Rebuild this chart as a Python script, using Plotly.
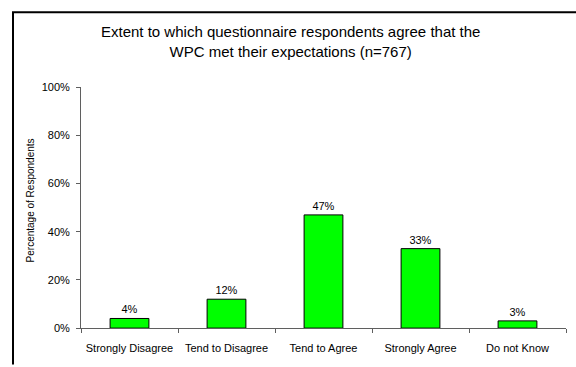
import plotly.graph_objects as go

# Survey responses on whether the WPC met expectations
categories = ["Strongly Disagree", "Tend to Disagree", "Tend to Agree", "Strongly Agree", "Do not Know"]
percentages = [4, 12, 47, 33, 3]
y_ticks = [0, 20, 40, 60, 80, 100]
y_tick_labels = ["0%", "20%", "40%", "60%", "80%", "100%"]

W, H = 576, 367
FONT = "Liberation Sans, Arial, sans-serif"
AXIS_GREY = "#5f5f5f"

# plot area in pixels
px_left, px_right = 81, 566
px_top, px_bottom = 84, 333

fig = go.Figure(
    go.Bar(
        x=categories,
        y=percentages,
        width=0.4,
        marker=dict(color="#00FF00", line=dict(color="#000000", width=1)),
        text=[f"{v}%" for v in percentages],
        textposition="outside",
        textfont=dict(size=11, color="#000000", family=FONT),
        cliponaxis=False,
    )
)

fig.update_layout(
    width=W,
    height=H,
    margin=dict(l=0, r=0, t=0, b=0),
    paper_bgcolor="white",
    plot_bgcolor="white",
    showlegend=False,
    font=dict(family=FONT, size=11, color="#000000"),
    xaxis=dict(
        domain=[px_left / W, px_right / W],
        range=[-0.5, 4.5],
        showline=True,
        linecolor=AXIS_GREY,
        linewidth=1,
        ticks="outside",
        tickson="boundaries",
        ticklen=4,
        tickcolor=AXIS_GREY,
        ticklabelstandoff=10,
        showgrid=False,
        tickfont=dict(size=11, family=FONT, color="#000000"),
    ),
    yaxis=dict(
        domain=[(H - px_bottom) / H, (H - px_top) / H],
        range=[0, 100],
        tickvals=y_ticks,
        ticktext=y_tick_labels,
        showline=True,
        linecolor=AXIS_GREY,
        linewidth=1,
        ticks="outside",
        ticklen=4,
        tickcolor=AXIS_GREY,
        ticklabelstandoff=4,
        showgrid=False,
        zeroline=False,
        tickfont=dict(size=11, family=FONT, color="#000000"),
    ),
    annotations=[
        dict(
            text="Extent to which questionnaire respondents agree that the<br>WPC met their expectations (n=767)",
            x=290 / W, y=1 - 37 / H, xref="paper", yref="paper",
            xanchor="center", yanchor="middle", showarrow=False,
            font=dict(size=15, family=FONT, color="#000000"),
        ),
        dict(
            text="Percentage of Respondents",
            x=30 / W, y=1 - 201 / H, xref="paper", yref="paper",
            xanchor="center", yanchor="middle", showarrow=False, textangle=-90,
            font=dict(size=10, family=FONT, color="#000000"),
        ),
    ],
    shapes=[
        # outer chart border (left and top edges)
        dict(
            type="path", xref="paper", yref="paper",
            path=f"M {13/W},{-0.01} L {13/W},{1-6.5/H} L {1.01},{1-6.5/H}",
            line=dict(color="#000000", width=2),
        )
    ],
)

fig.write_html("out.html")
